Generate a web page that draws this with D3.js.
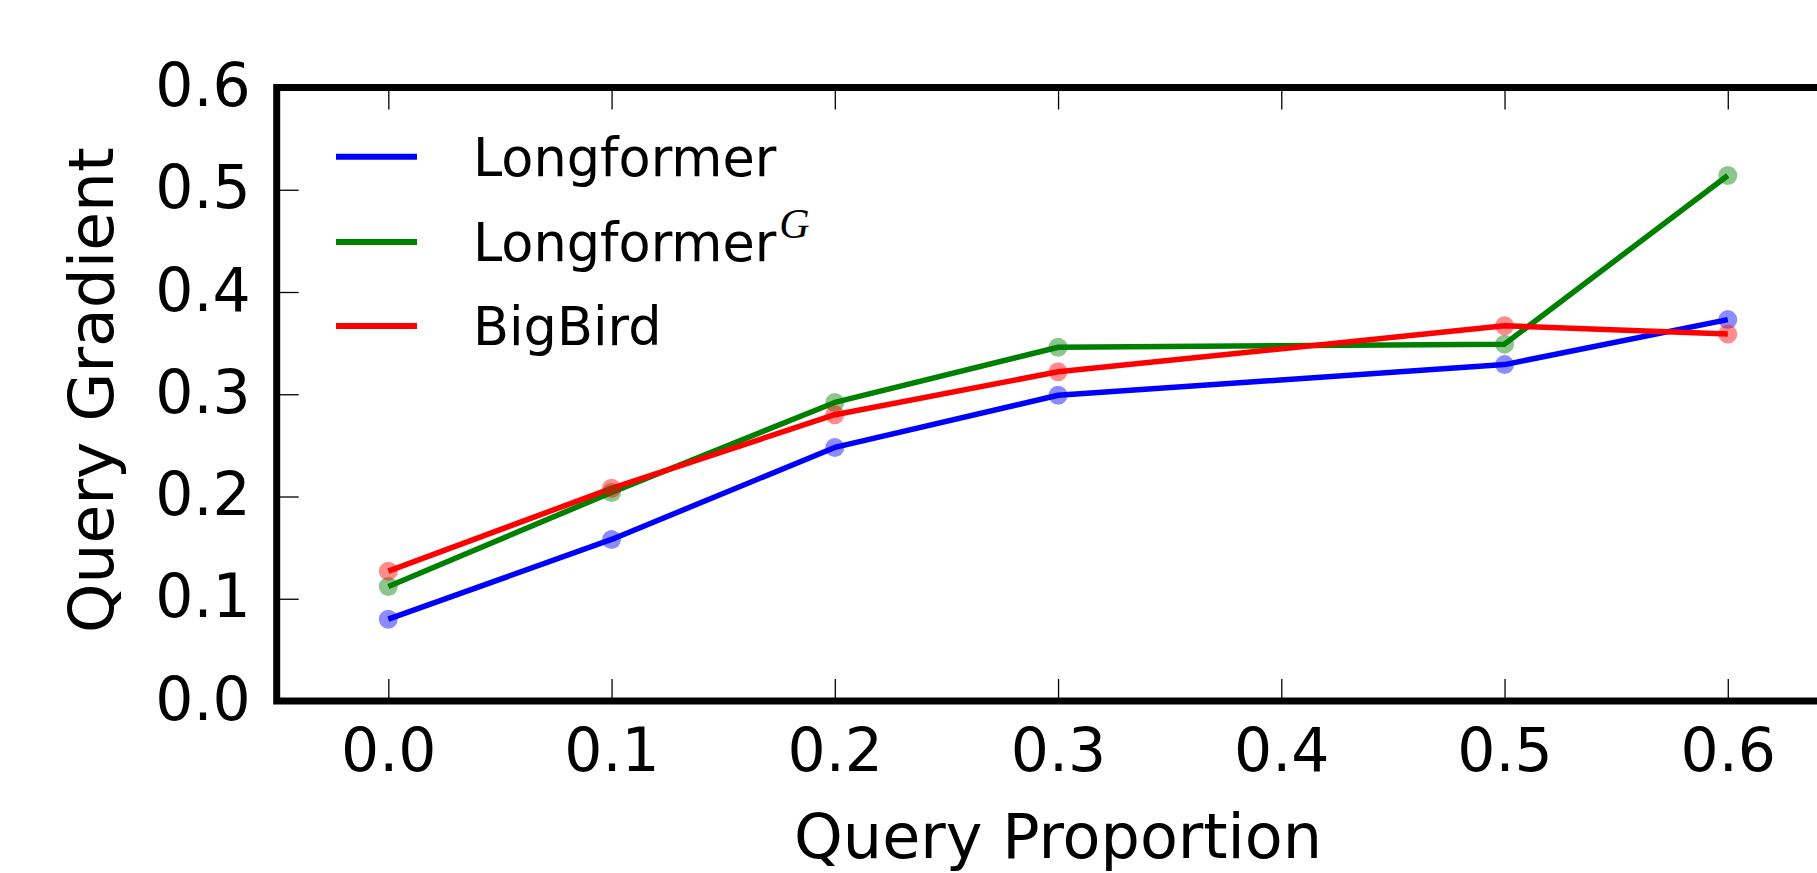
<!DOCTYPE html>
<html>
<head>
<meta charset="utf-8">
<script src="https://cdn.jsdelivr.net/npm/d3@7"></script>
<style>
  html, body { margin: 0; padding: 0; background: #ffffff; overflow: hidden; }
  svg { display: block; }
  text { font-family: "DejaVu Sans", sans-serif; fill: #000; }
</style>
</head>
<body>
<svg id="chart" width="1817" height="873"></svg>
<script>
// ---- data ----
const xValues = [0.0, 0.1, 0.2, 0.3, 0.5, 0.6];
const longformer = [0.080, 0.158, 0.248, 0.299, 0.329, 0.373];
const longformerG = [0.112, 0.204, 0.292, 0.346, 0.349, 0.514];
const bigbird = [0.127, 0.208, 0.280, 0.322, 0.367, 0.359];
const seriesNames = ["Longformer", "LongformerG", "BigBird"];
const seriesColors = ["#0000ff", "#008000", "#ff0000"];
const xTicks = [0.0, 0.1, 0.2, 0.3, 0.4, 0.5, 0.6];
const yTicks = [0.0, 0.1, 0.2, 0.3, 0.4, 0.5, 0.6];
const xDomain = [-0.05, 0.65];
const yDomain = [0, 0.6];
const xLabel = "Query Proportion";
const yLabel = "Query Gradient";

const seriesValues = [longformer, longformerG, bigbird];

(function () {
const svg = d3.select("#chart");
const pL = 276.7, pR = 1839.4, pT = 87.5, pB = 701;

const x = d3.scaleLinear().domain(xDomain).range([pL, pR]);
const y = d3.scaleLinear().domain(yDomain).range([pB, pT]);
const fmt = d3.format(".1f");
const tickLen = 22;

// axes
const gB = svg.append("g").attr("transform", `translate(0,${pB})`)
  .call(d3.axisBottom(x).tickValues(xTicks).tickSizeInner(-tickLen).tickSizeOuter(0).tickPadding(27).tickFormat(fmt));
const gL = svg.append("g").attr("transform", `translate(${pL},0)`)
  .call(d3.axisLeft(y).tickValues(yTicks).tickSizeInner(-tickLen).tickSizeOuter(0).tickPadding(26).tickFormat(fmt));
const gT = svg.append("g").attr("transform", `translate(0,${pT})`)
  .call(d3.axisTop(x).tickValues(xTicks).tickSizeInner(-tickLen).tickSizeOuter(0).tickFormat(""));
const gR = svg.append("g").attr("transform", `translate(${pR},0)`)
  .call(d3.axisRight(y).tickValues(yTicks).tickSizeInner(-tickLen).tickSizeOuter(0).tickFormat(""));

[gB, gL, gT, gR].forEach(g => {
  g.select(".domain").remove();
  g.selectAll(".tick line").attr("stroke", "#000").attr("stroke-width", 1.3);
  g.selectAll(".tick text")
    .style("font-family", "'DejaVu Sans', sans-serif")
    .style("font-size", "60px")
    .attr("fill", "#000");
});
gB.selectAll(".tick text").attr("dy", "0.71em");
gL.selectAll(".tick text").attr("dy", "0.3em");

// lines
const line = d3.line().x(d => x(d[0])).y(d => y(d[1]));
seriesValues.forEach((vals, i) => {
  const pts = xValues.map((xv, j) => [xv, vals[j]]);
  svg.append("path").datum(pts)
    .attr("d", line)
    .attr("fill", "none")
    .attr("stroke", seriesColors[i])
    .attr("stroke-width", 5.5)
    .attr("stroke-linejoin", "round");
});
seriesValues.forEach((vals, i) => {
  const pts = xValues.map((xv, j) => [xv, vals[j]]);
  svg.append("g").selectAll("circle").data(pts).enter().append("circle")
    .attr("cx", d => x(d[0]))
    .attr("cy", d => y(d[1]))
    .attr("r", 9.5)
    .attr("fill", seriesColors[i])
    .attr("fill-opacity", 0.45);
});

// frame
svg.append("rect")
  .attr("x", pL).attr("y", pT)
  .attr("width", pR - pL).attr("height", pB - pT)
  .attr("fill", "none").attr("stroke", "#000").attr("stroke-width", 7);

// legend
const legY = [156.7, 242, 326];
seriesNames.forEach((name, i) => {
  svg.append("line")
    .attr("x1", 336).attr("x2", 417)
    .attr("y1", legY[i]).attr("y2", legY[i])
    .attr("stroke", seriesColors[i]).attr("stroke-width", 6);
  const t = svg.append("text")
    .attr("x", 473).attr("y", legY[i] + 19)
    .style("font-size", "52.5px");
  if (name === "LongformerG") {
    t.append("tspan").text("Longformer");
    t.append("tspan").text("G")
      .attr("dy", -23)
      .attr("dx", 3)
      .style("font-family", "'Liberation Serif', serif")
      .style("font-style", "italic")
      .style("font-size", "42px");
  } else {
    t.text(name);
  }
});

// axis labels
svg.append("text")
  .attr("x", (pL + pR) / 2).attr("y", 858)
  .attr("text-anchor", "middle")
  .style("font-size", "62px")
  .text(xLabel);
svg.append("text")
  .attr("transform", `translate(113,${(pT + pB) / 2 - 4}) rotate(-90)`)
  .attr("text-anchor", "middle")
  .style("font-size", "63px")
  .text(yLabel);
})();
</script>
</body>
</html>
